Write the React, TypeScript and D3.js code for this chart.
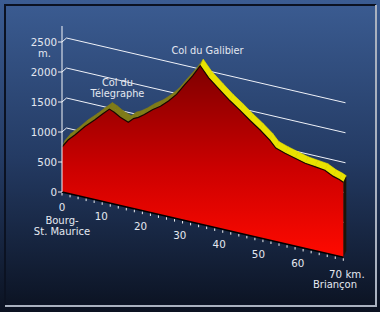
import React from "react";
import * as d3 from "d3";

// ---- data ----
const KM = [0, 1.5, 3.2, 5.7, 8.2, 10, 11.8, 13, 14.5, 16.5, 17.8, 19, 20.5, 22.5, 24.5, 26.5, 28.5, 30.5, 32.5, 34.4, 36.5, 39.3, 41.8, 44.3, 46.8, 49.3, 51.7, 53.2, 55.5, 58, 60.5, 62.9, 65.4, 67.5, 69, 70];
const ELEV = [750, 890, 1000, 1180, 1330, 1450, 1565, 1530, 1470, 1420, 1500, 1540, 1610, 1720, 1810, 1930, 2070, 2260, 2440, 2640, 2470, 2310, 2170, 2050, 1920, 1800, 1670, 1560, 1510, 1465, 1420, 1400, 1380, 1310, 1280, 1250];
const Y_TICKS = [0, 500, 1000, 1500, 2000, 2500];
const GRID_LEVELS = [500, 1000, 1500, 2000, 2500];
const X_LABELS = [0, 10, 20, 30, 40, 50, 60];
const X_MAX = 70;
const PASS_LABELS = [
  { lines: ["Col du Galibier"], x: 207.5, y: 54 },
  { lines: ["Col du", "Télegraphe"], x: 117.5, y: 86 },
];

const W = 380;
const H = 312;

export default function App() {
  const xS = d3.scaleLinear().domain([0, X_MAX]).range([62, 343.3]);
  const baseS = d3.scaleLinear().domain([0, X_MAX]).range([192, 257.3]);
  const hS = d3.scaleLinear().domain([0, 2500]).range([0, 150]);
  const yAxis = d3.scaleLinear().domain([0, 2500]).range([192, 42]);
  const depth = { dx: 3, dy: -6.5 };
  const gridOff = { dx: 4.5, dy: -4 };
  const gridSlope = (baseS(X_MAX) - baseS(0)) / (xS(X_MAX) - xS(0));

  const pts = KM.map((k, i) => [xS(k), baseS(k) - hS(ELEV[i])] as [number, number]);
  const peakIdx = ELEV.indexOf(d3.max(ELEV) as number);

  const line = d3.line();
  const frontPath =
    line([[xS(0), baseS(0)], ...pts, [xS(X_MAX), baseS(X_MAX)]]) + "Z";
  const topLine = line(pts) as string;

  const quads = pts.slice(0, -1).map((p, i) => {
    const q = pts[i + 1];
    const poly: [number, number][] = [
      p,
      q,
      [q[0] + depth.dx, q[1] + depth.dy],
      [p[0] + depth.dx, p[1] + depth.dy],
    ];
    const col = i >= peakIdx ? "#e9e200" : "#807c18";
    return { d: line(poly) + "Z", col };
  });

  const last = pts[pts.length - 1];
  const endBase: [number, number] = [xS(X_MAX), baseS(X_MAX)];
  const sideFace =
    line([
      last,
      [last[0] + depth.dx, last[1] + depth.dy],
      [endBase[0] + depth.dx, endBase[1] + depth.dy],
      endBase,
    ]) + "Z";

  const gridEndX = 345.5;
  const minorTicks = d3.range(0, X_MAX + 1, 2);
  const font = "'DejaVu Sans', Verdana, sans-serif";
  const txt = "#e4e8f0";

  return (
    <svg
      width={W}
      height={H}
      style={{ position: "absolute", left: 0, top: 0, display: "block" }}
    >
      <defs>
        <linearGradient id="bg" x1="0" y1="0" x2="0" y2={H} gradientUnits="userSpaceOnUse">
          <stop offset="0" stopColor="#3b5c92" />
          <stop offset="0.5" stopColor="#243b64" />
          <stop offset="1" stopColor="#0b1221" />
        </linearGradient>
        <linearGradient id="red" x1="0" y1="60" x2="0" y2="258" gradientUnits="userSpaceOnUse">
          <stop offset="0" stopColor="#7a0000" />
          <stop offset="0.55" stopColor="#cc0000" />
          <stop offset="1" stopColor="#ff0a00" />
        </linearGradient>
      </defs>
      <rect x={0} y={0} width={W} height={H} fill="url(#bg)" />
      {/* frame */}
      <line x1={4} y1={5} x2={376} y2={5} stroke="#0b1222" strokeWidth={2} />
      <line x1={5} y1={4} x2={5} y2={306} stroke="#0b1222" strokeWidth={2} />
      <line x1={5} y1={306} x2={377} y2={306} stroke="#a9b1bf" strokeWidth={2} />
      <line x1={376} y1={5} x2={376} y2={307} stroke="#a9b1bf" strokeWidth={2} />

      {/* back grid lines */}
      {GRID_LEVELS.map((v) => {
        const y0 = yAxis(v);
        const sx = 62 + gridOff.dx;
        const sy = y0 + gridOff.dy;
        const ey = sy + (gridEndX - sx) * gridSlope;
        return (
          <polyline
            key={v}
            points={`62,${y0} ${sx},${sy} ${gridEndX},${ey}`}
            fill="none"
            stroke="#f0f2f8"
            strokeWidth={1}
          />
        );
      })}

      {/* top surface band */}
      {quads.map((q, i) => (
        <path key={i} d={q.d} fill={q.col} stroke={q.col} strokeWidth={0.6} />
      ))}
      <path d={sideFace} fill="#1c1406" />

      {/* front face */}
      <path d={frontPath} fill="url(#red)" />
      <path d={topLine} fill="none" stroke="#1a0600" strokeWidth={1.2} />

      {/* x axis */}
      <line x1={xS(0)} y1={baseS(0)} x2={xS(X_MAX)} y2={baseS(X_MAX)} stroke="#000" strokeWidth={1.5} />
      {minorTicks.map((k) => (
        <line
          key={k}
          x1={xS(k)}
          y1={baseS(k) + 1}
          x2={xS(k)}
          y2={baseS(k) + 3.5}
          stroke="#f0f0f0"
          strokeWidth={1}
        />
      ))}

      {/* y axis */}
      <line x1={62} y1={26} x2={62} y2={192} stroke="#f4f6fa" strokeWidth={1} />
      {Y_TICKS.map((v) => (
        <g key={v}>
          <line x1={58} y1={yAxis(v)} x2={62} y2={yAxis(v)} stroke="#f4f6fa" strokeWidth={1} />
          <text x={57} y={yAxis(v) + 3.7} textAnchor="end" fontFamily={font} fontSize={10.3} fill={txt}>
            {v}
          </text>
        </g>
      ))}
      <text x={44.5} y={57} textAnchor="middle" fontFamily={font} fontSize={10} fill={txt}>
        m.
      </text>

      {/* x labels */}
      {X_LABELS.map((k) => (
        <text
          key={k}
          x={xS(k) - k * 0.09}
          y={baseS(k) + 19}
          textAnchor="middle"
          fontFamily={font}
          fontSize={10.3}
          fill={txt}
        >
          {k}
        </text>
      ))}
      <text x={329} y={baseS(X_MAX) + 21} textAnchor="start" fontFamily={font} fontSize={10.3} fill={txt}>
        {X_MAX} km.
      </text>
      <text x={62} y={224} textAnchor="middle" fontFamily={font} fontSize={10} fill={txt}>
        Bourg-
      </text>
      <text x={62} y={235} textAnchor="middle" fontFamily={font} fontSize={10} fill={txt}>
        St. Maurice
      </text>
      <text x={335} y={288} textAnchor="middle" fontFamily={font} fontSize={10} fill={txt}>
        Briançon
      </text>

      {/* pass labels */}
      {PASS_LABELS.map((p, i) =>
        p.lines.map((l, j) => (
          <text
            key={`${i}-${j}`}
            x={p.x}
            y={p.y + j * 11}
            textAnchor="middle"
            fontFamily={font}
            fontSize={9.8}
            fill={txt}
          >
            {l}
          </text>
        ))
      )}
    </svg>
  );
}
